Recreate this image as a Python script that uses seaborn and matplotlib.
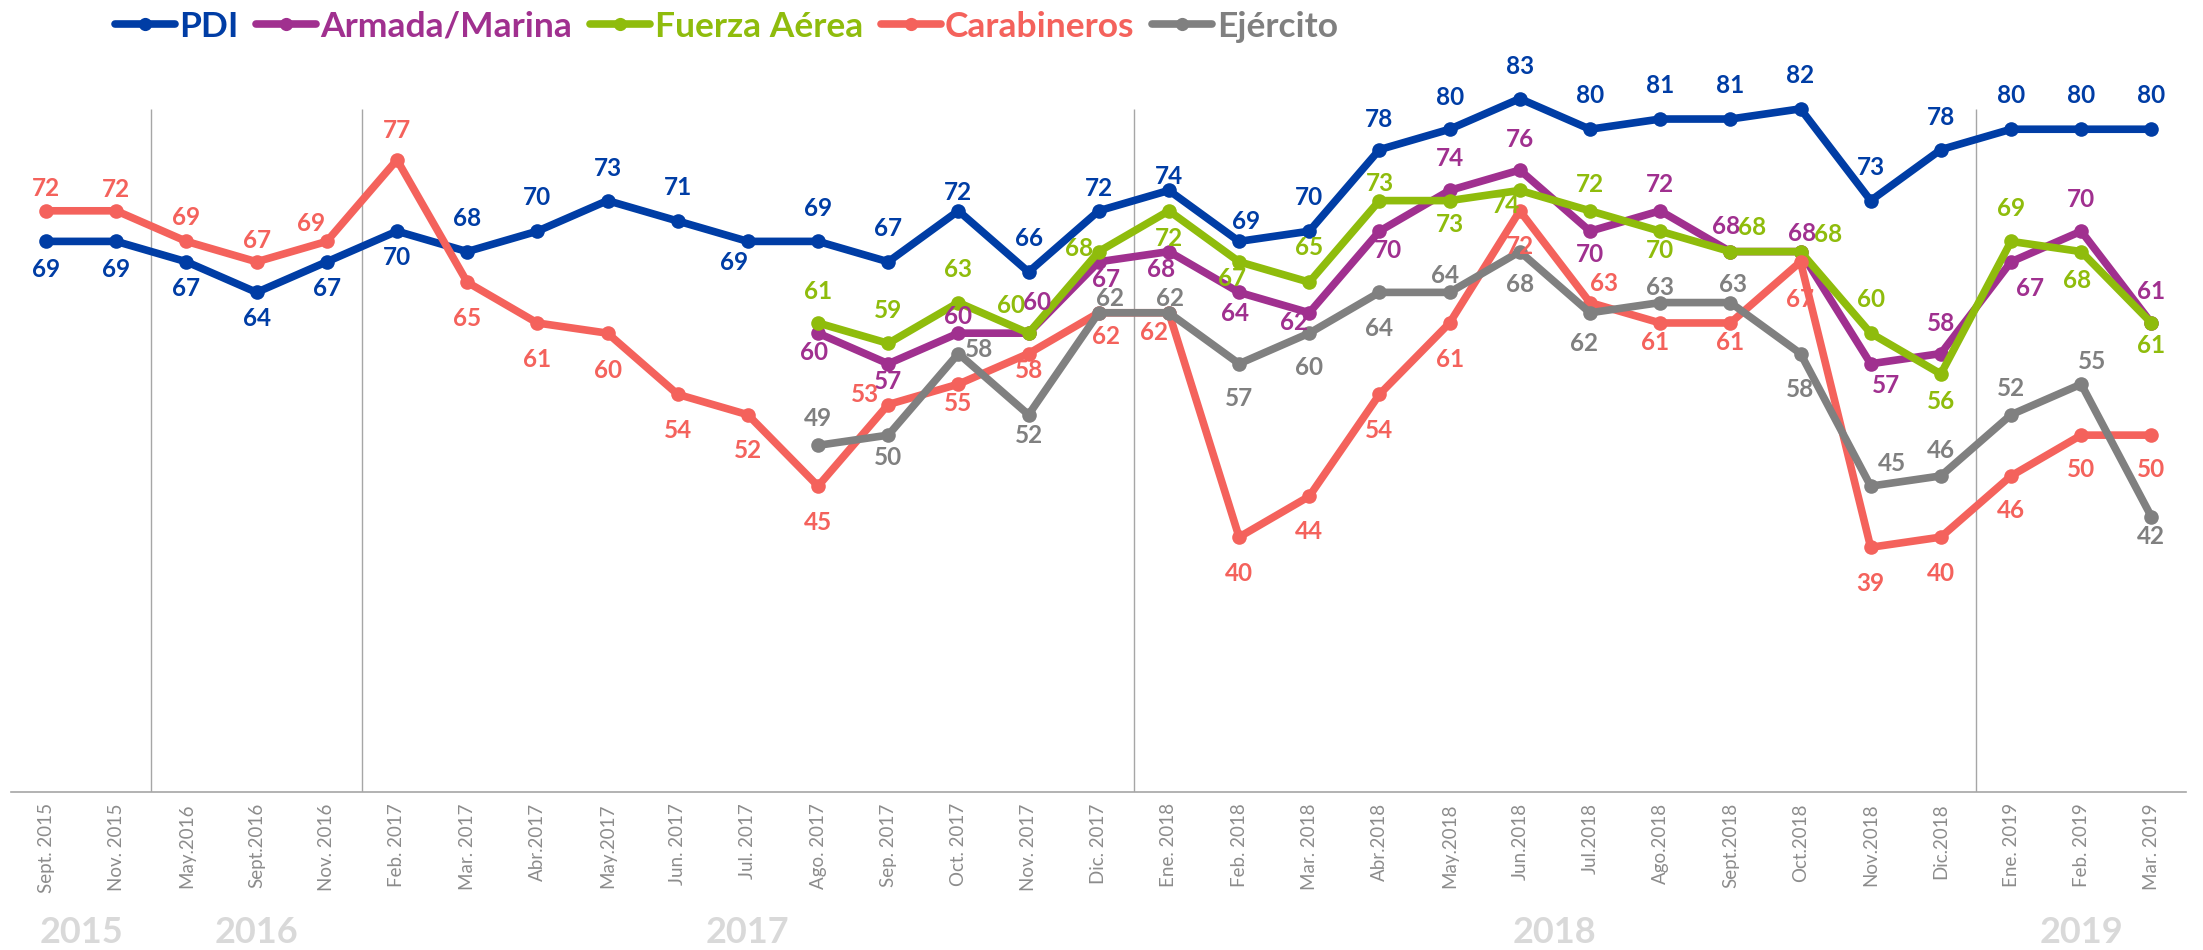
import pandas as pd
import matplotlib
matplotlib.use("Agg")
import matplotlib.pyplot as plt
import matplotlib.transforms as mtransforms
from matplotlib.lines import Line2D
import seaborn as sns

sns.set_theme(style="white")
plt.rcParams["font.family"] = ["Lato", "DejaVu Sans"]

# Categories (survey waves)
meses = ["Sept. 2015", "Nov. 2015", "May.2016", "Sept.2016", "Nov. 2016",
         "Feb. 2017", "Mar. 2017", "Abr.2017", "May.2017", "Jun. 2017",
         "Jul. 2017", "Ago. 2017", "Sep. 2017", "Oct. 2017", "Nov. 2017",
         "Dic. 2017", "Ene. 2018", "Feb. 2018", "Mar. 2018", "Abr.2018",
         "May.2018", "Jun.2018", "Jul.2018", "Ago.2018", "Sept.2018",
         "Oct.2018", "Nov.2018", "Dic.2018", "Ene. 2019", "Feb. 2019", "Mar. 2019"]

# Series values (None = not measured)
pdi = [69, 69, 67, 64, 67, 70, 68, 70, 73, 71, 69, 69, 67, 72, 66, 72,
       74, 69, 70, 78, 80, 83, 80, 81, 81, 82, 73, 78, 80, 80, 80]
armada = [None] * 11 + [60, 57, 60, 60, 67, 68, 64, 62, 70, 74, 76, 70, 72,
                        68, 68, 57, 58, 67, 70, 61]
fuerza_aerea = [None] * 11 + [61, 59, 63, 60, 68, 72, 67, 65, 73, 73, 74, 72,
                              70, 68, 68, 60, 56, 69, 68, 61]
carabineros = [72, 72, 69, 67, 69, 77, 65, 61, 60, 54, 52, 45, 53, 55, 58, 62,
               62, 40, 44, 54, 61, 72, 63, 61, 61, 67, 39, 40, 46, 50, 50]
ejercito = [None] * 11 + [49, 50, 58, 52, 62, 62, 57, 60, 64, 64, 68, 62, 63,
                          63, 58, 45, 46, 52, 55, 42]

series = ["PDI", "Armada/Marina", "Fuerza Aérea", "Carabineros", "Ejército"]
valores = [pdi, armada, fuerza_aerea, carabineros, ejercito]
colores = ["#003DA5", "#A0308F", "#8FBC0C", "#F4625C", "#808080"]

# label offsets in points (dx, dy) from each point
off_pdi = [(0, -20), (0, -20), (0, -19), (0, -19), (0, -19), (0, -19), (0, 24),
           (0, 24), (0, 23), (0, 24), (-10, -15), (0, 24), (0, 24), (0, 13),
           (0, 24), (0, 16), (0, 10), (5, 14), (0, 24), (0, 22), (0, 23),
           (0, 23), (0, 24), (0, 24), (0, 24), (0, 24), (0, 24), (0, 23),
           (0, 24), (0, 24), (0, 24)]
off_armada = [None] * 11 + [(-3, -14), (0, -13), (0, 12), (6, 22), (5, -13),
                            (-6, -13), (-3, -15), (-11, -7), (6, -14), (0, 23),
                            (0, 22), (0, -17), (0, 19), (-3, 18), (1, 13),
                            (11, -16), (0, 22), (14, -19), (0, 23), (0, 23)]
off_fuerza = [None] * 11 + [(0, 23), (0, 24), (0, 24), (-13, 20), (-14, 2),
                            (0, -20), (-5, -12), (0, 25), (0, 12), (0, -17),
                            (-10, -11), (0, 19), (0, -14), (16, 17), (20, 12),
                            (0, 24), (0, -20), (0, 24), (-3, -21), (0, -16)]
off_carab = [(0, 16), (0, 15), (0, 17), (0, 15), (-11, 13), (0, 21), (0, -26),
             (0, -26), (0, -27), (0, -26), (0, -26), (0, -26), (-17, 7),
             (0, -14), (0, -12), (5, -17), (-11, -14), (0, -26), (0, -25),
             (0, -26), (0, -26), (0, -26), (10, 14), (-4, -14), (0, -14),
             (0, -27), (0, -26), (0, -26), (0, -25), (0, -25), (0, -25)]
off_ejer = [None] * 11 + [(0, 19), (0, -16), (15, 3), (0, -15), (8, 10),
                          (1, 10), (0, -25), (0, -25), (0, -26), (-3, 12),
                          (0, -24), (-4, -22), (0, 11), (2, 13), (0, -26),
                          (15, 16), (0, 18), (0, 19), (8, 16), (0, -14)]
offsets = [off_pdi, off_armada, off_fuerza, off_carab, off_ejer]

rows = []
for s, vals in zip(series, valores):
    for i, v in enumerate(vals):
        if v is not None:
            rows.append({"idx": i, "valor": v, "serie": s})
df = pd.DataFrame(rows)

fig = plt.figure(figsize=(22.03, 9.5), dpi=100)
ax = fig.add_axes([0.005, 0.1663, 0.9875, 0.805])

sns.lineplot(data=df, x="idx", y="valor", hue="serie", hue_order=series,
             palette=colores, marker="o", markersize=10.5, markeredgewidth=0,
             linewidth=5.5, legend=False, ax=ax)

# year separators
ax.vlines([1.5, 4.5, 15.5, 27.5], 15, 82, color="#a6a6a6", lw=1, zorder=0)

# value labels
for vals, col, offs in zip(valores, colores, offsets):
    for i, v in enumerate(vals):
        if v is None:
            continue
        ax.annotate(str(v), (i, v), xytext=offs[i], textcoords="offset points",
                    ha="center", va="center", fontsize=17.5, fontweight="bold",
                    color=col)

ax.set_xlim(-0.5, len(meses) - 0.5)
ax.set_ylim(15, 90)
ax.set_xticks(range(len(meses)))
ax.set_xticklabels(meses, rotation=90, fontsize=13.5, color="#8c8c8c")
ax.set_xticks([i - 0.5 for i in range(len(meses) + 1)], minor=True)
ax.tick_params(axis="x", which="major", length=0, pad=8)
ax.tick_params(axis="x", which="minor", length=4, color="#a6a6a6", width=1)
ax.set_yticks([])
ax.set_xlabel("")
ax.set_ylabel("")
for side in ["top", "right", "left"]:
    ax.spines[side].set_visible(False)
ax.spines["bottom"].set_color("#a6a6a6")
ax.spines["bottom"].set_linewidth(1.2)

# year labels under the months
anios = [m[-4:] for m in meses]
trans = mtransforms.blended_transform_factory(ax.transData, fig.transFigure)
for a in sorted(set(anios)):
    idxs = [i for i, x in enumerate(anios) if x == a]
    ax.text((idxs[0] + idxs[-1]) / 2, 0.018, a, transform=trans, ha="center",
            va="center", fontsize=26, fontweight="bold", color="#d9d9d9")

handles = [Line2D([], [], color=c, lw=5.5, marker="o", markersize=9.5,
                  markeredgewidth=0) for c in colores]
leg = fig.legend(handles, series, loc="center left", bbox_to_anchor=(0.052, 0.972),
                 ncol=5, frameon=False, handlelength=1.7, handletextpad=0.12,
                 columnspacing=0.5, borderpad=0, borderaxespad=0,
                 prop={"size": 25.5, "weight": "bold"})
for t, c in zip(leg.get_texts(), colores):
    t.set_color(c)

fig.savefig("out.png", dpi=100)
